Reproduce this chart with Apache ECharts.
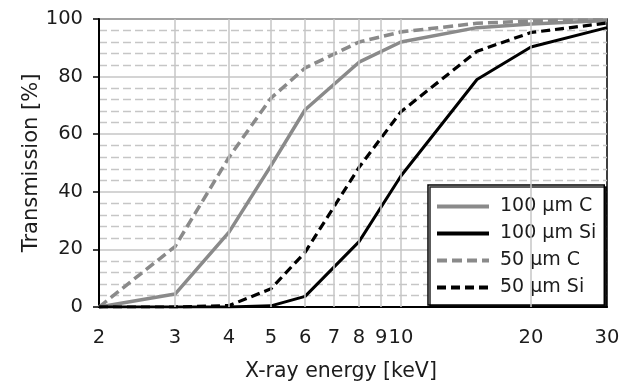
<!DOCTYPE html>
<html>
<head>
<meta charset="utf-8">
<script src="https://cdn.jsdelivr.net/npm/echarts@6/dist/echarts.min.js"></script>
<style>html,body{margin:0;padding:0;background:#fff;}#chart{width:624px;height:382px;}</style>
</head>
<body>
<div id="chart"></div>
<script>
const energies = [2, 3, 4, 5, 6, 8, 10, 15, 20, 30];
const c100 = [0, 4.5, 26, 49, 68.5, 85, 92, 97, 98.3, 99.5];
const si100 = [0, 0, 0, 0.4, 3.7, 22.7, 45.5, 79, 90.3, 97];
const c50 = [0, 21, 52, 72.5, 83, 92, 95.5, 98.5, 99.3, 99.7];
const si50 = [0, 0, 0.5, 6.3, 19, 48.5, 67.8, 88.8, 95.3, 98.6];
const xTicks = [2, 3, 4, 5, 6, 7, 8, 9, 10, 20, 30];
const seriesNames = ['100 \u03bcm C', '100 \u03bcm Si', '50 \u03bcm C', '50 \u03bcm Si'];

const FONT = 'DejaVu Sans';
const TXT = '#1c1c1c';
const GRAY = '#8a8a8a';

function pairs(ys) { return energies.map((x, i) => [x, ys[i]]); }

const chart = echarts.init(document.getElementById('chart'), null, {renderer: 'canvas'});
chart.setOption({
  animation: false,
  backgroundColor: '#fff',
  textStyle: {fontFamily: FONT},
  grid: {left: 99, right: 17, top: 19, bottom: 75, containLabel: false, outerBoundsMode: 'none',
         show: true, borderColor: '#000', borderWidth: 1.5, backgroundColor: 'transparent'},
  xAxis: {
    type: 'log', logBase: 10, min: 2, max: 30,
    name: 'X-ray energy [keV]', nameLocation: 'middle', nameGap: 54, nameMoveOverlap: false,
    nameTextStyle: {fontSize: 20.5, color: TXT, fontFamily: FONT, padding: [0, 24, 0, 0]},
    axisLine: {lineStyle: {color: '#000', width: 2}},
    axisTick: {show: false}, axisLabel: {show: false},
    splitLine: {show: false}, minorSplitLine: {show: false}
  },
  yAxis: {
    type: 'value', min: 0, max: 100, interval: 20,
    name: 'Transmission [%]', nameLocation: 'middle', nameGap: 57, nameMoveOverlap: false,
    nameTextStyle: {fontSize: 21, color: TXT, fontFamily: FONT},
    axisLine: {show: true, lineStyle: {color: '#000', width: 2}},
    axisTick: {show: true, length: 6, lineStyle: {color: '#000', width: 1.5}},
    axisLabel: {fontSize: 19.5, color: TXT, margin: 16, fontFamily: FONT},
    splitLine: {show: true, lineStyle: {color: '#c6c6c6', width: 1.5}},
    minorTick: {show: false, splitNumber: 5},
    minorSplitLine: {show: true, lineStyle: {color: '#c6c6c6', width: 1.3, type: [8, 4]}}
  },
  legend: {
    data: seriesNames, orient: 'vertical', left: 428, top: 185,
    itemWidth: 52, itemHeight: 14, itemGap: 8,
    padding: [12, 8, 8, 7],
    borderColor: '#000', borderWidth: 1.5, backgroundColor: '#fff',
    shadowColor: 'rgba(0,0,0,0.85)', shadowOffsetX: 2, shadowOffsetY: 2, shadowBlur: 0,
    itemStyle: {opacity: 0},
    lineStyle: {width: 4},
    textStyle: {fontSize: 19, color: TXT, fontFamily: FONT, padding: [0, 0, 0, 6]}
  },
  series: [
    {
      type: 'line', name: 'grid', data: [], silent: true, z: 1,
      markLine: {
        silent: true, symbol: ['none', 'none'], animation: false,
        lineStyle: {color: '#c6c6c6', type: 'solid', width: 1.5},
        label: {show: true, position: 'start', distance: 21, formatter: p => String(p.value), fontSize: 19.5, color: TXT, fontFamily: FONT},
        emphasis: {disabled: true},
        data: xTicks.map(v => (v === 2 || v === 30) ? {xAxis: v, lineStyle: {color: 'rgba(0,0,0,0)', width: 0}} : {xAxis: v})
      }
    },
    {name: seriesNames[0], type: 'line', data: pairs(c100), symbol: 'none', z: 3,
     lineStyle: {color: GRAY, width: 3.5, type: 'solid'}, itemStyle: {color: GRAY}},
    {name: seriesNames[1], type: 'line', data: pairs(si100), symbol: 'none', z: 4,
     lineStyle: {color: '#000', width: 3, type: 'solid'}, itemStyle: {color: '#000'}},
    {name: seriesNames[2], type: 'line', data: pairs(c50), symbol: 'none', z: 3,
     lineStyle: {color: GRAY, width: 3.5, type: [10, 5]}, itemStyle: {color: GRAY}},
    {name: seriesNames[3], type: 'line', data: pairs(si50), symbol: 'none', z: 4,
     lineStyle: {color: '#000', width: 3.2, type: [9, 5]}, itemStyle: {color: '#000'}}
  ]
});
</script>
</body>
</html>
